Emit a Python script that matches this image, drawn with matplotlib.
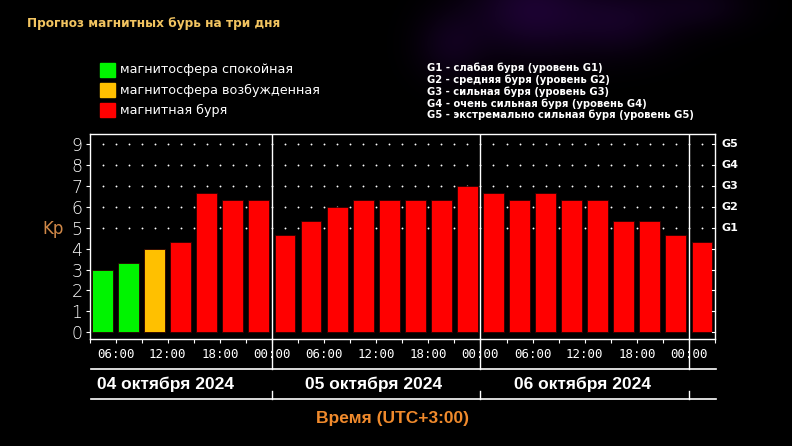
import numpy as np
import matplotlib
matplotlib.use("Agg")
import matplotlib.pyplot as plt
from matplotlib import transforms
from matplotlib.lines import Line2D
from matplotlib.patches import Rectangle

# ---------------- data ----------------
title = "Прогноз магнитных бурь на три дня"
kp_values = [3.0, 3.33, 4.0, 4.33, 6.67, 6.33, 6.33,
             4.67, 5.33, 6.0, 6.33, 6.33, 6.33, 6.33, 7.0,
             6.67, 6.33, 6.67, 6.33, 6.33, 5.33, 5.33, 4.67,
             4.33]
status = ["quiet", "quiet", "active", "storm", "storm", "storm", "storm",
          "storm", "storm", "storm", "storm", "storm", "storm", "storm", "storm",
          "storm", "storm", "storm", "storm", "storm", "storm", "storm", "storm",
          "storm"]
time_labels = ["06:00", "12:00", "18:00", "00:00"] * 3
day_labels = ["04 октября 2024", "05 октября 2024", "06 октября 2024"]
legend_labels = ["магнитосфера спокойная", "магнитосфера возбужденная", "магнитная буря"]
g_legend = ["G1 - слабая буря (уровень G1)",
            "G2 - средняя буря (уровень G2)",
            "G3 - сильная буря (уровень G3)",
            "G4 - очень сильная буря (уровень G4)",
            "G5 - экстремально сильная буря (уровень G5)"]
g_levels = ["G1", "G2", "G3", "G4", "G5"]
g_kp = [5, 6, 7, 8, 9]
y_ticks = list(range(10))
xlabel = "Время (UTC+3:00)"

# ---------------- style ----------------
status_colors = {"quiet": "#00f400", "active": "#ffc000", "storm": "#ff0000"}
W, H = 792, 446
fig = plt.figure(figsize=(W / 100, H / 100), dpi=100)
fig.patch.set_facecolor("black")

# background nebula glow
bg = fig.add_axes([0, 0, 1, 1], zorder=-10)
yy, xx = np.mgrid[0:H, 0:W]
img = np.zeros((H, W, 3))
for cx, cy, sx, sy, amp in [(530, 10, 60, 45, 0.26), (620, 20, 55, 35, 0.18),
                            (450, 45, 35, 35, 0.14), (700, 5, 50, 25, 0.12)]:
    g = amp * np.exp(-(((xx - cx) / sx) ** 2 + ((yy - cy) / sy) ** 2))
    img[..., 0] += g * 0.40
    img[..., 1] += g * 0.04
    img[..., 2] += g * 0.70
bg.imshow(np.clip(img, 0, 1), extent=[0, W, H, 0], aspect="auto")
bg.set_xlim(0, W)
bg.set_ylim(H, 0)
bg.axis("off")

px = lambda v: v / W
py = lambda v: 1 - v / H

ax = fig.add_axes([px(89.5), py(339), (715 - 89.5) / W, (339 - 134) / H])
ax.set_facecolor("black")
n = len(kp_values)
ax.set_xlim(0, n)
ax.set_ylim(-0.33, 9.5)

# grid dots at G levels
dot_x = np.arange(0.5, n, 0.5)
for lv in g_kp:
    ax.scatter(dot_x, [lv] * len(dot_x), s=1.8, color="white", zorder=1, linewidths=0)

x = np.arange(n) + 0.5
ax.bar(x, kp_values, width=0.8, color=[status_colors[s] for s in status],
       edgecolor="#2a0000", linewidth=0.6, zorder=2)

for s in ax.spines.values():
    s.set_color("white")
    s.set_linewidth(1.0)

ax.set_yticks(y_ticks)
ax.set_yticklabels([str(v) for v in y_ticks], color="white", fontsize=12.5,
                   family="DejaVu Sans", fontweight="light")
ax.tick_params(axis="y", which="both", colors="white", length=3, width=0.8, pad=2,
               right=False, direction="out")
# right inner ticks
for v in y_ticks:
    ax.plot([n - 0.1, n], [v, v], color="white", lw=0.8, zorder=3, clip_on=False)

ax.set_xticks(np.arange(0, n + 1))
ax.set_xticklabels([])
ax.tick_params(axis="x", colors="white", length=3, width=0.8)

trans_x_fig = transforms.blended_transform_factory(ax.transData, fig.transFigure)

# time labels
for i, lab in enumerate(time_labels):
    ax.text(1 + 2 * i, py(354), lab, transform=trans_x_fig,
            ha="center", va="center", color="white", fontsize=9, family="DejaVu Sans Mono")

# day dividers
dividers = [7, 15, 23]
for d in dividers:
    ax.axvline(d, color="white", lw=1.0, zorder=3)
    fig.add_artist(Line2D([d, d], [py(339), py(369)], transform=trans_x_fig, color="white", lw=1.0))
    fig.add_artist(Line2D([d, d], [py(391), py(399)], transform=trans_x_fig, color="white", lw=1.0))
for yl in [369, 399]:
    fig.add_artist(Line2D([0.05, n + 0.05], [py(yl), py(yl)], transform=trans_x_fig,
                          color="white", lw=1.2))

day_centers = [2.9, 10.9, 18.9]
for dc, lab in zip(day_centers, day_labels):
    fig.text(dc, py(384), lab, transform=trans_x_fig, ha="center", va="center",
             color="white", fontsize=12.5, fontweight="bold", family="Liberation Sans")

fig.text(px(392), py(418), xlabel, ha="center", va="center", color="#f08a2c",
         fontsize=12.5, fontweight="bold", family="Liberation Sans")

# Kp label
fig.text(px(53), py(229), "Kp", ha="center", va="center", color="#d08848", fontsize=12)

# G labels on right
gtrans = transforms.offset_copy(transforms.blended_transform_factory(ax.transAxes, ax.transData),
                                fig=fig, x=7, y=0, units="dots")
for lv, lab in zip(g_kp, g_levels):
    ax.text(1.0, lv, lab, transform=gtrans, ha="left", va="center", color="white",
            fontsize=8, fontweight="bold")

# title
fig.text(px(27), py(24), title, ha="left", va="center", color="#f2c460",
         fontsize=8.7, fontweight="bold")

# colour legend
for i, (lab, key) in enumerate(zip(legend_labels, ["quiet", "active", "storm"])):
    yc = 70 + 20 * i
    fig.add_artist(Rectangle((px(100), py(yc + 7)), 14.5 / W, 14 / H,
                             transform=fig.transFigure, color=status_colors[key]))
    fig.text(px(120), py(yc), lab, ha="left", va="center", color="white", fontsize=9.2)

# G legend
for i, lab in enumerate(g_legend):
    fig.text(px(427), py(68 + 11.8 * i), lab, ha="left", va="center", color="white",
             fontsize=7.2, fontweight="bold")

fig.savefig("out.png", dpi=100, facecolor="black")
